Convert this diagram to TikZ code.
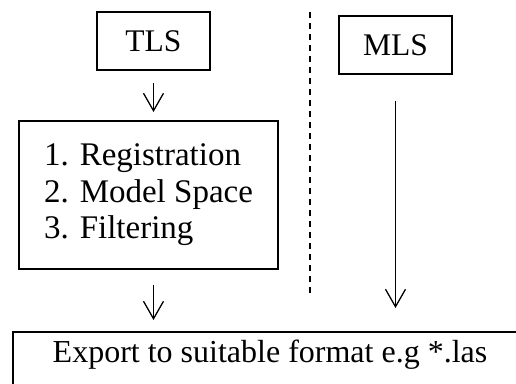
\documentclass[tikz,border=0pt]{standalone}
\usepackage{fontspec}
\setmainfont{Liberation Serif}
\usetikzlibrary{arrows.meta, positioning}

\begin{document}
\begin{tikzpicture}[x=0.4pt,y=-0.4pt,
  box/.style={draw,rectangle,line width=0.8pt,inner sep=3pt},
  srcbox/.style={box,minimum width=45.2pt,minimum height=23.2pt,font=\fontsize{12.6}{14}\selectfont},
  flow/.style={-{Straight Barb[length=7pt,width=8pt]},line width=0.5pt}]
  \useasboundingbox (0,0) rectangle (516,383);
  \node[srcbox] (tls) at (153.5,41) {TLS};
  \node[srcbox] (mls) at (395.5,45) {MLS};
  \node[box,align=left,minimum width=103.6pt,minimum height=59.2pt,font=\fontsize{13.2}{14.6}\selectfont] (proc) at (148.5,195) {1. Registration\\2. Model Space\\3. Filtering};
  \node[box,anchor=north west,minimum width=205.6pt,inner ysep=3pt,font=\fontsize{12.8}{15}\selectfont] (export) at (12,331) {Export to suitable format e.g *.las\rule[-20pt]{0pt}{1pt}};

  \draw[flow,shorten <=4.8pt,shorten >=3.2pt] (tls.south) -- (tls.south |- proc.north);
  \draw[flow,shorten <=6pt,shorten >=4.4pt] (tls.south |- proc.south) -- (tls.south |- export.north);
  \draw[flow,shorten <=10.4pt,shorten >=9.2pt] (mls.south) -- (mls.south |- export.north);
  \draw[line width=0.5pt,dash pattern=on 2.4pt off 2pt] (310,12) -- (310,293);
\end{tikzpicture}
\end{document}
